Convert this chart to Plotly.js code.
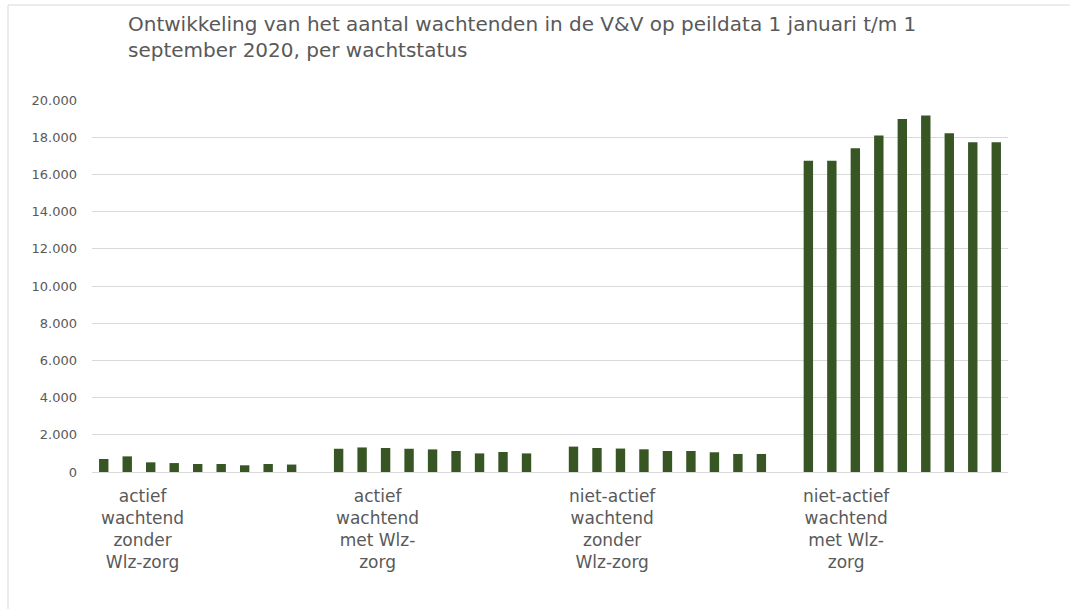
<!DOCTYPE html>
<html>
<head>
<meta charset="utf-8">
<script src="https://cdn.plot.ly/plotly-3.0.1.min.js"></script>
<style>
html,body{margin:0;padding:0;background:#fff;}
#chart{width:1070px;height:609px;}
</style>
</head>
<body>
<div id="chart"></div>
<script>
// Categories (wachtstatus)
const categories = [
  "actief wachtend zonder Wlz-zorg",
  "actief wachtend met Wlz-zorg",
  "niet-actief wachtend zonder Wlz-zorg",
  "niet-actief wachtend met Wlz-zorg"
];
const tickLabels = [
  "actief<br>wachtend<br>zonder<br>Wlz-zorg",
  "actief<br>wachtend<br>met Wlz-<br>zorg",
  "niet-actief<br>wachtend<br>zonder<br>Wlz-zorg",
  "niet-actief<br>wachtend<br>met Wlz-<br>zorg"
];
// Peildata (1 januari t/m 1 september 2020)
const peildata = ["1 januari","1 februari","1 maart","1 april","1 mei","1 juni","1 juli","1 augustus","1 september"];

// Values per category, per peildatum (Jan..Sep)
const actiefZonder     = [700, 840, 520, 480, 430, 430, 360, 430, 400];
const actiefMet        = [1250, 1320, 1290, 1250, 1215, 1130, 1000, 1075, 1000];
const nietActiefZonder = [1365, 1290, 1260, 1220, 1130, 1130, 1060, 970, 970];
const nietActiefMet    = [16730, 16730, 17400, 18090, 18980, 19160, 18210, 17730, 17730];

const series = [actiefZonder, actiefMet, nietActiefZonder, nietActiefMet];
const barColor = "#375623";
const textColor = "#595959";
const fontFam = "DejaVu Sans, Verdana, sans-serif";

const traces = peildata.map((d, i) => ({
  type: "bar",
  name: d,
  x: categories,
  y: series.map(s => s[i]),
  marker: {color: barColor},
  hoverinfo: "x+y+name"
}));

const L = 92, R = 1008, T = 100, B = 472;
const W = R - L, H = B - T;
function px(x){ return (x - L) / W; }
function py(y){ return (B - y) / H; }

// category labels sit left of the bar-group centres, as in the original
const labelOffset = -0.236;
const labelAnnotations = tickLabels.map((t, i) => ({
  text: t,
  xref: "x", yref: "paper",
  x: i + labelOffset, y: 0,
  xanchor: "center", yanchor: "top",
  yshift: -12,
  showarrow: false,
  align: "center",
  font: {family: fontFam, size: 17, color: textColor}
}));

const layout = {
  width: 1070,
  height: 609,
  paper_bgcolor: "#ffffff",
  plot_bgcolor: "#ffffff",
  margin: {l: L, r: 1070 - R, t: T, b: 609 - B, pad: 0},
  showlegend: false,
  separators: ",.",
  barmode: "group",
  bargap: 0.1,
  bargroupgap: 0.6,
  font: {family: fontFam, color: textColor},
  title: {
    text: "Ontwikkeling van het aantal wachtenden in de V&V op peildata 1 januari t/m 1<br>september 2020, per wachtstatus",
    x: 128 / 1070, xref: "container", xanchor: "left",
    y: 1 - 31 / 609, yref: "container", yanchor: "top",
    font: {family: fontFam, size: 20, color: textColor}
  },
  xaxis: {
    type: "category",
    range: [-0.45, 3.45],
    showticklabels: false,
    showgrid: false,
    showline: false,
    zeroline: false,
    ticks: "",
    fixedrange: true
  },
  yaxis: {
    range: [0, 20000],
    tick0: 0,
    dtick: 2000,
    tickformat: ",d",
    showgrid: true,
    gridcolor: "#d9d9d9",
    gridwidth: 1,
    zeroline: true,
    zerolinecolor: "#d9d9d9",
    zerolinewidth: 1,
    showline: false,
    ticks: "",
    ticklabelstandoff: 14,
    tickfont: {family: fontFam, size: 13, color: textColor},
    fixedrange: true
  },
  annotations: labelAnnotations,
  shapes: [
    {type: "rect", xref: "paper", yref: "paper",
     x0: px(8), x1: px(1080), y0: py(620), y1: py(5),
     line: {color: "#d9d9d9", width: 1}, fillcolor: "rgba(0,0,0,0)", layer: "below"}
  ]
};

Plotly.newPlot("chart", traces, layout, {displayModeBar: false, staticPlot: true});
</script>
</body>
</html>
